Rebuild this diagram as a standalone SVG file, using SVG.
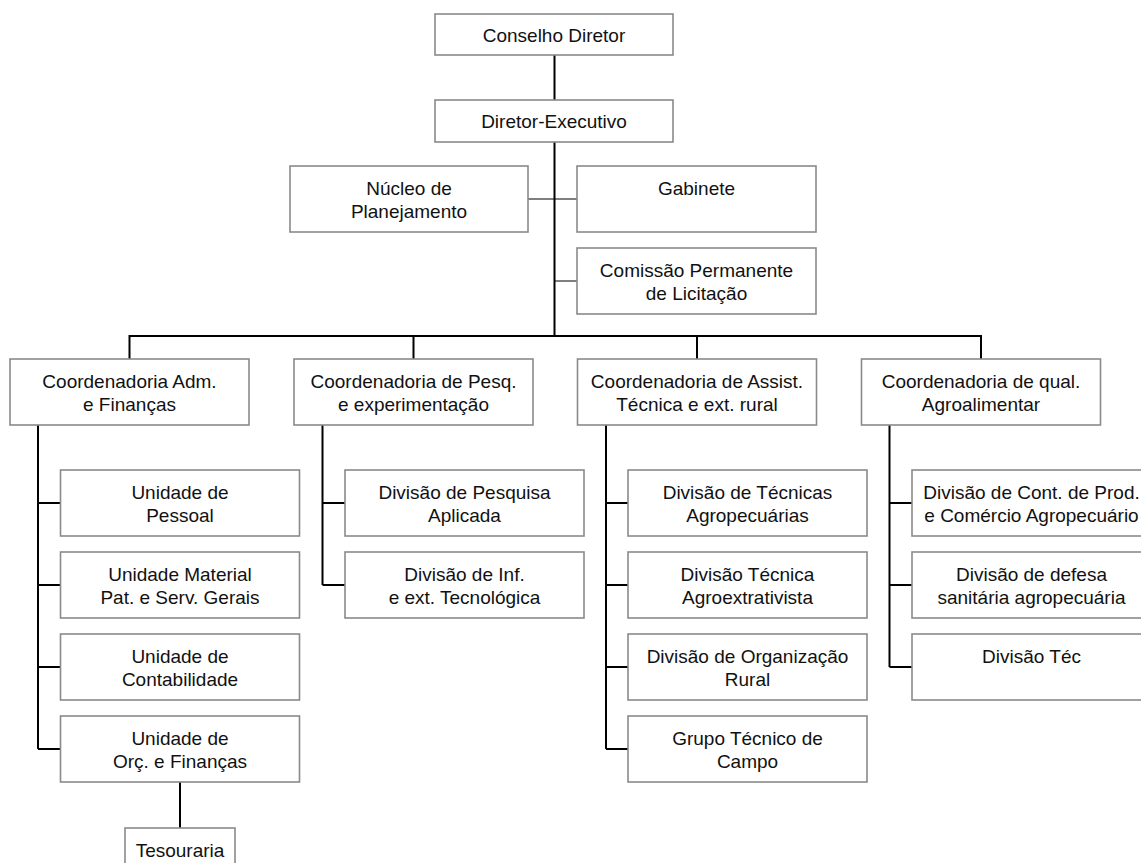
<svg xmlns="http://www.w3.org/2000/svg" width="1141" height="863" viewBox="0 0 1141 863">
<style>
.b{fill:#fff;stroke:#8a8a8a;stroke-width:1.6}
.t{font-family:"Liberation Sans",Arial,sans-serif;font-size:19px;fill:#111;text-anchor:middle}
.c{stroke:#000;stroke-width:2;fill:none}
.c1{stroke:#000;stroke-width:1.2;fill:none}
</style>
<rect width="1141" height="863" fill="#fff"/>
<g id="connectors">
<path class="c" d="M554.5 55V100M554.5 142V336"/>
<path class="c1" d="M528 199H577M554.5 281H577"/>
<path class="c" d="M129.5 359V336H981V359M413.5 336V359M697 336V359"/>
<path class="c" d="M38 425V749M38 503H60.5M38 585H60.5M38 667H60.5M38 749H60.5"/>
<path class="c" d="M322.5 425V585M322.5 503H345M322.5 585H345"/>
<path class="c" d="M606 425V749M606 503H628M606 585H628M606 667H628M606 749H628"/>
<path class="c" d="M889.5 425V667M889.5 503H912M889.5 585H912M889.5 667H912"/>
<path class="c" d="M180 782V828"/>
</g>
<g id="conselho"><rect class="b" x="435" y="14" width="238" height="41"/><text class="t" x="554" y="41.5">Conselho Diretor</text></g>
<g id="diretor"><rect class="b" x="435" y="100" width="238" height="42"/><text class="t" x="554" y="128">Diretor-Executivo</text></g>
<g id="nucleo"><rect class="b" x="290" y="166" width="238" height="66"/><text class="t" x="409" y="194.5">Núcleo de</text><text class="t" x="409" y="217.5">Planejamento</text></g>
<g id="gabinete"><rect class="b" x="577" y="166" width="239" height="66"/><text class="t" x="696.5" y="194.5">Gabinete</text></g>
<g id="comissao"><rect class="b" x="577" y="248" width="239" height="66"/><text class="t" x="696.5" y="276.5">Comissão Permanente</text><text class="t" x="696.5" y="299.5">de Licitação</text></g>
<g id="coord-adm"><rect class="b" x="10" y="359" width="239" height="66"/><text class="t" x="129.5" y="387.5">Coordenadoria Adm.</text><text class="t" x="129.5" y="410.5">e Finanças</text></g>
<g id="coord-pesq"><rect class="b" x="294" y="359" width="239" height="66"/><text class="t" x="413.5" y="387.5">Coordenadoria de Pesq.</text><text class="t" x="413.5" y="410.5">e experimentação</text></g>
<g id="coord-assist"><rect class="b" x="577.5" y="359" width="239" height="66"/><text class="t" x="697" y="387.5">Coordenadoria de Assist.</text><text class="t" x="697" y="410.5">Técnica e ext. rural</text></g>
<g id="coord-qual"><rect class="b" x="861.5" y="359" width="239" height="66"/><text class="t" x="981" y="387.5">Coordenadoria de qual.</text><text class="t" x="981" y="410.5">Agroalimentar</text></g>
<g id="un-pessoal"><rect class="b" x="60.5" y="470" width="239" height="66"/><text class="t" x="180" y="498.5">Unidade de</text><text class="t" x="180" y="521.5">Pessoal</text></g>
<g id="un-material"><rect class="b" x="60.5" y="552" width="239" height="66"/><text class="t" x="180" y="580.5">Unidade Material</text><text class="t" x="180" y="603.5">Pat. e Serv. Gerais</text></g>
<g id="un-contab"><rect class="b" x="60.5" y="634" width="239" height="66"/><text class="t" x="180" y="662.5">Unidade de</text><text class="t" x="180" y="685.5">Contabilidade</text></g>
<g id="un-orc"><rect class="b" x="60.5" y="716" width="239" height="66"/><text class="t" x="180" y="744.5">Unidade de</text><text class="t" x="180" y="767.5">Orç. e Finanças</text></g>
<g id="tesouraria"><rect class="b" x="125" y="828" width="110" height="60"/><text class="t" x="180" y="856.5">Tesouraria</text></g>
<g id="div-pesq"><rect class="b" x="345" y="470" width="239" height="66"/><text class="t" x="464.5" y="498.5">Divisão de Pesquisa</text><text class="t" x="464.5" y="521.5">Aplicada</text></g>
<g id="div-inf"><rect class="b" x="345" y="552" width="239" height="66"/><text class="t" x="464.5" y="580.5">Divisão de Inf.</text><text class="t" x="464.5" y="603.5">e ext. Tecnológica</text></g>
<g id="div-tec-agro"><rect class="b" x="628" y="470" width="239" height="66"/><text class="t" x="747.5" y="498.5">Divisão de Técnicas</text><text class="t" x="747.5" y="521.5">Agropecuárias</text></g>
<g id="div-tec-extr"><rect class="b" x="628" y="552" width="239" height="66"/><text class="t" x="747.5" y="580.5">Divisão Técnica</text><text class="t" x="747.5" y="603.5">Agroextrativista</text></g>
<g id="div-org"><rect class="b" x="628" y="634" width="239" height="66"/><text class="t" x="747.5" y="662.5">Divisão de Organização</text><text class="t" x="747.5" y="685.5">Rural</text></g>
<g id="grupo-campo"><rect class="b" x="628" y="716" width="239" height="66"/><text class="t" x="747.5" y="744.5">Grupo Técnico de</text><text class="t" x="747.5" y="767.5">Campo</text></g>
<g id="div-cont"><rect class="b" x="912" y="470" width="239" height="66"/><text class="t" x="1031.5" y="498.5">Divisão de Cont. de Prod.</text><text class="t" x="1031.5" y="521.5">e Comércio Agropecuário</text></g>
<g id="div-defesa"><rect class="b" x="912" y="552" width="239" height="66"/><text class="t" x="1031.5" y="580.5">Divisão de defesa</text><text class="t" x="1031.5" y="603.5">sanitária agropecuária</text></g>
<g id="div-tec"><rect class="b" x="912" y="634" width="239" height="66"/><text class="t" x="1031.5" y="662.5">Divisão Téc</text></g>
</svg>
